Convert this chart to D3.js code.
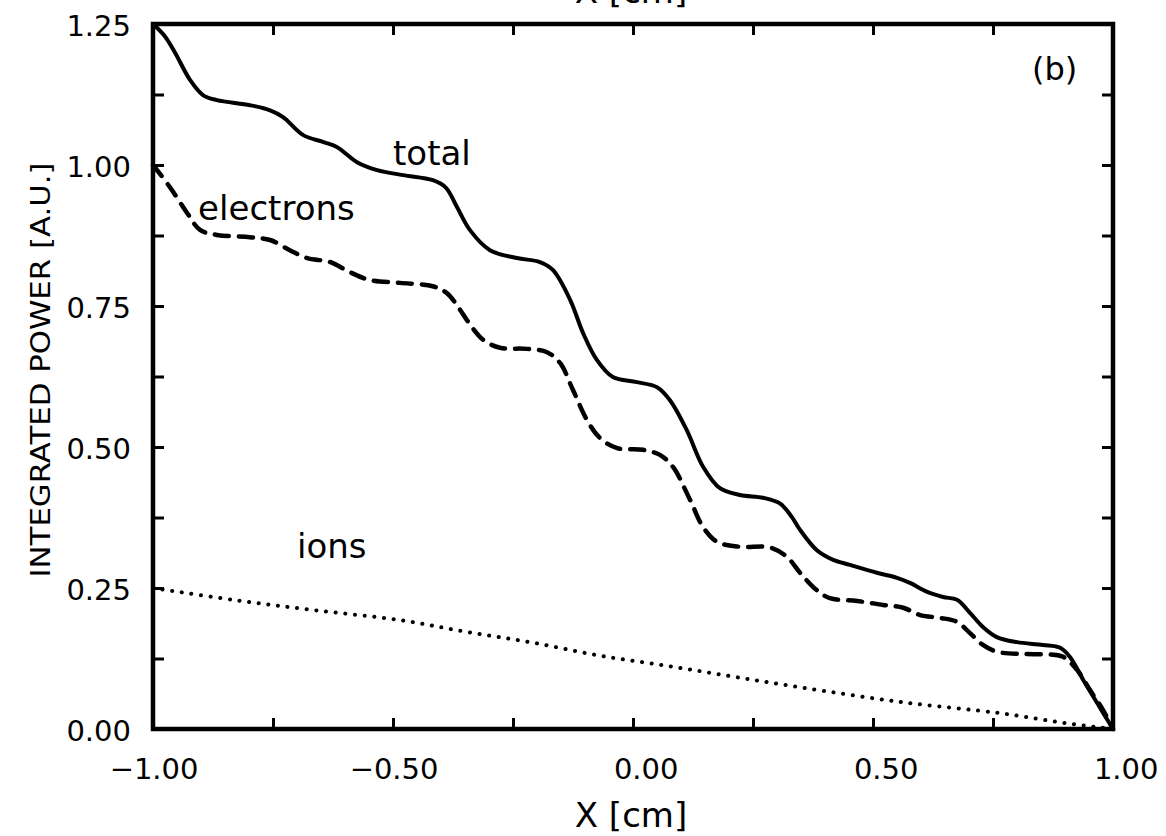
<!DOCTYPE html>
<html>
<head>
<meta charset="utf-8">
<script src="https://cdn.jsdelivr.net/npm/d3@7/dist/d3.min.js"></script>
<style>
  html, body { margin: 0; padding: 0; background: #fff; }
  svg { display: block; }
  text { font-family: "DejaVu Sans", sans-serif; fill: #000; }
</style>
</head>
<body>
<svg id="chart" width="1166" height="836"></svg>
<script>
// Integrated power vs position, panel (b)
const total = [
  [-1.000, 1.250], [-0.975, 1.228], [-0.954, 1.199], [-0.923, 1.151], [-0.896, 1.124],
  [-0.867, 1.115], [-0.798, 1.106], [-0.756, 1.097], [-0.729, 1.085], [-0.687, 1.053],
  [-0.646, 1.041], [-0.617, 1.032], [-0.575, 1.005], [-0.533, 0.991], [-0.479, 0.982],
  [-0.417, 0.973], [-0.390, 0.960], [-0.367, 0.926], [-0.340, 0.885], [-0.298, 0.849],
  [-0.242, 0.835], [-0.194, 0.828], [-0.167, 0.814], [-0.131, 0.761], [-0.104, 0.702],
  [-0.075, 0.654], [-0.042, 0.624], [0.008, 0.615], [0.050, 0.606], [0.077, 0.583],
  [0.112, 0.530], [0.146, 0.465], [0.181, 0.427], [0.223, 0.415], [0.271, 0.410],
  [0.306, 0.400], [0.330, 0.377], [0.348, 0.353], [0.383, 0.317], [0.417, 0.300],
  [0.452, 0.291], [0.508, 0.277], [0.550, 0.268], [0.577, 0.259], [0.613, 0.243],
  [0.646, 0.234], [0.675, 0.229], [0.702, 0.206], [0.729, 0.181], [0.758, 0.163],
  [0.800, 0.154], [0.854, 0.149], [0.890, 0.144], [0.910, 0.128], [0.938, 0.087],
  [0.967, 0.046], [1.000, 0.000]
];

const electrons = [
  [-1.000, 1.000], [-0.965, 0.961], [-0.929, 0.915], [-0.902, 0.885], [-0.867, 0.876],
  [-0.798, 0.872], [-0.756, 0.867], [-0.715, 0.849], [-0.679, 0.835], [-0.631, 0.828],
  [-0.590, 0.810], [-0.548, 0.796], [-0.485, 0.791], [-0.417, 0.785], [-0.388, 0.773],
  [-0.360, 0.743], [-0.346, 0.725], [-0.312, 0.690], [-0.277, 0.676], [-0.221, 0.674],
  [-0.179, 0.668], [-0.152, 0.649], [-0.125, 0.601], [-0.096, 0.548], [-0.069, 0.516],
  [-0.033, 0.498], [0.021, 0.495], [0.056, 0.486], [0.083, 0.465], [0.119, 0.406],
  [0.146, 0.358], [0.175, 0.332], [0.223, 0.323], [0.285, 0.322], [0.321, 0.305],
  [0.348, 0.277], [0.383, 0.246], [0.410, 0.232], [0.467, 0.227], [0.521, 0.220],
  [0.563, 0.215], [0.598, 0.202], [0.640, 0.197], [0.675, 0.190], [0.702, 0.170],
  [0.729, 0.149], [0.758, 0.137], [0.813, 0.133], [0.869, 0.132], [0.896, 0.128],
  [0.925, 0.105], [0.952, 0.069], [0.979, 0.034], [1.000, 0.000]
];

const ions = [
  [-1.000, 0.250], [-0.833, 0.229], [-0.667, 0.211], [-0.485, 0.193], [-0.346, 0.172],
  [-0.208, 0.153], [-0.069, 0.130], [0.071, 0.112], [0.208, 0.093], [0.348, 0.074],
  [0.556, 0.048], [0.765, 0.028], [0.904, 0.010], [1.000, 0.000]
];

const xTicks = [-1, -0.75, -0.5, -0.25, 0, 0.25, 0.5, 0.75, 1];
const xLabelled = [-1, -0.5, 0, 0.5, 1];
const yTicks = [0, 0.125, 0.25, 0.375, 0.5, 0.625, 0.75, 0.875, 1, 1.125, 1.25];
const yLabelled = [0, 0.25, 0.5, 0.75, 1, 1.25];

const xTitle = "X [cm]";
const yTitle = "INTEGRATED POWER [A.U.]";
const panelTag = "(b)";
const curveLabels = [
  { text: "total", x: -0.500, y: 1.000 },
  { text: "electrons", x: -0.906, y: 0.903 },
  { text: "ions", x: -0.700, y: 0.303 }
];

const svg = d3.select("#chart");
const plotL = 153, plotR = 1113, plotT = 24, plotB = 729;

const x = d3.scaleLinear().domain([-1, 1]).range([plotL, plotR]);
const y = d3.scaleLinear().domain([0, 1.25]).range([plotB, plotT]);
const fmt = d3.format(".2f");
const has = (arr, v) => arr.some(a => Math.abs(a - v) < 1e-9);

// curves
const line = d3.line().x(d => x(d[0])).y(d => y(d[1])).curve(d3.curveCatmullRom.alpha(0.5));

svg.append("path").datum(total)
  .attr("d", line).attr("fill", "none").attr("stroke", "#000")
  .attr("stroke-width", 4).attr("stroke-linejoin", "round");

svg.append("path").datum(electrons)
  .attr("d", line).attr("fill", "none").attr("stroke", "#000")
  .attr("stroke-width", 4.5).attr("stroke-dasharray", "14 10")
  .attr("stroke-linecap", "round");

svg.append("path").datum(ions)
  .attr("d", line).attr("fill", "none").attr("stroke", "#000")
  .attr("stroke-width", 4).attr("stroke-dasharray", "0.1 9.6")
  .attr("stroke-linecap", "round");

// axes with inward ticks
const tick = 11;
function styleAxis(g) {
  g.select(".domain").remove();
  g.selectAll(".tick line").attr("stroke", "#000").attr("stroke-width", 3);
  g.selectAll(".tick text").style("font-family", "DejaVu Sans, sans-serif")
    .style("font-size", "29px").attr("fill", "#000");
}

const gB = svg.append("g").attr("transform", `translate(0,${plotB})`)
  .call(d3.axisBottom(x).tickValues(xTicks).tickSize(-tick)
    .tickFormat(d => has(xLabelled, d) ? fmt(d) : ""));
styleAxis(gB);
gB.selectAll(".tick text").attr("text-anchor", "end").attr("x", 45).attr("y", 50).attr("dy", 0);

const gT = svg.append("g").attr("transform", `translate(0,${plotT})`)
  .call(d3.axisTop(x).tickValues(xTicks).tickSize(-tick).tickFormat(""));
styleAxis(gT);

const gL = svg.append("g").attr("transform", `translate(${plotL},0)`)
  .call(d3.axisLeft(y).tickValues(yTicks).tickSize(-tick)
    .tickFormat(d => has(yLabelled, d) ? fmt(d) : ""));
styleAxis(gL);
gL.selectAll(".tick text").attr("text-anchor", "end").attr("x", -22).attr("dy", "0.40em");

const gR = svg.append("g").attr("transform", `translate(${plotR},0)`)
  .call(d3.axisRight(y).tickValues(yTicks).tickSize(-tick).tickFormat(""));
styleAxis(gR);

// frame
svg.append("rect")
  .attr("x", plotL).attr("y", plotT)
  .attr("width", plotR - plotL).attr("height", plotB - plotT)
  .attr("fill", "none").attr("stroke", "#000").attr("stroke-width", 4.5);

// titles (the upper copy sits at the page's top edge)
svg.append("text").attr("x", 631).attr("y", 827)
  .attr("text-anchor", "middle").style("font-size", "34px").text(xTitle);
svg.append("text").attr("x", 631).attr("y", 3)
  .attr("text-anchor", "middle").style("font-size", "34px").text(xTitle);

svg.append("text")
  .attr("transform", "translate(50,370) rotate(-90)")
  .attr("text-anchor", "middle").style("font-size", "27px")
  .attr("textLength", 415).attr("lengthAdjust", "spacingAndGlyphs")
  .text(yTitle);

svg.append("text").attr("x", 1032).attr("y", 80)
  .style("font-size", "32px").text(panelTag);

// curve labels
svg.selectAll(".clabel").data(curveLabels).enter().append("text")
  .attr("class", "clabel")
  .attr("x", d => x(d.x)).attr("y", d => y(d.y))
  .style("font-size", "34px")
  .text(d => d.text);
</script>
</body>
</html>
